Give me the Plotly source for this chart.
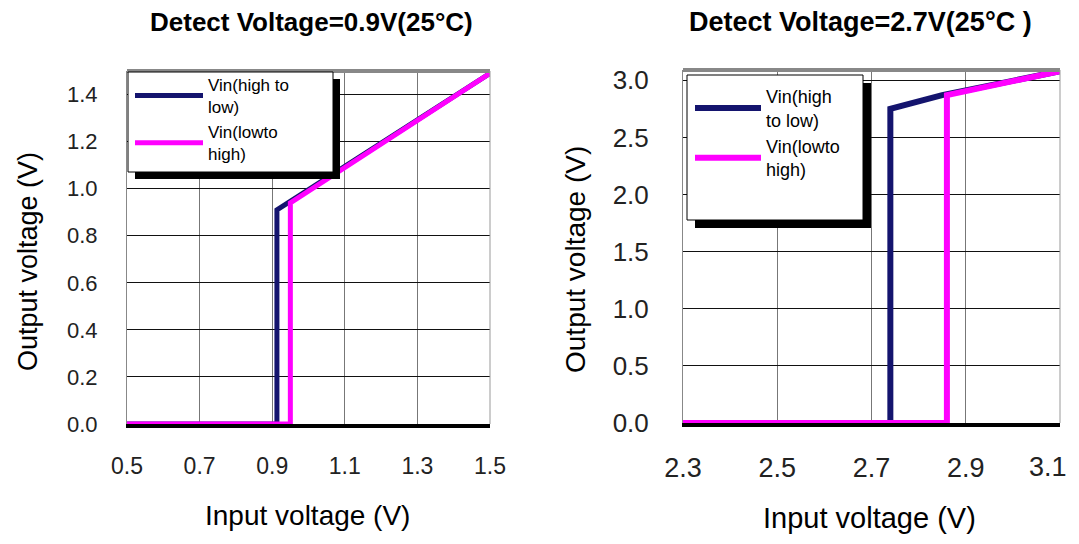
import plotly.graph_objects as go

# ---------------- data ----------------
left_hl_x = [0.5, 0.913, 0.913, 1.5]
left_hl_y = [0.0, 0.0, 0.91, 1.49]
left_lh_x = [0.5, 0.95, 0.95, 1.5]
left_lh_y = [0.0, 0.0, 0.94, 1.49]

right_hl_x = [2.3, 2.74, 2.74, 2.85, 3.1]
right_hl_y = [0.0, 0.0, 2.75, 2.87, 3.08]
right_lh_x = [2.3, 2.86, 2.86, 3.1]
right_lh_y = [0.0, 0.0, 2.87, 3.08]

left_xticks = [0.5, 0.7, 0.9, 1.1, 1.3, 1.5]
left_yticks = [0.0, 0.2, 0.4, 0.6, 0.8, 1.0, 1.2, 1.4]
right_xticks = [2.3, 2.5, 2.7, 2.9, 3.1]
right_yticks = [0.0, 0.5, 1.0, 1.5, 2.0, 2.5, 3.0]

name_hl_left = "Vin(high to<br>low)"
name_lh_left = "Vin(lowto<br>high)"
name_hl_right = "Vin(high<br>to low)"
name_lh_right = "Vin(lowto<br>high)"

NAVY = "#14146e"
MAGENTA = "#ff00ff"
FONT = "Liberation Sans, Arial, sans-serif"
OX, OY = 8, 8            # page body margin
W, H = 1063, 528

def px(x):
    return (x - OX) / W

def py(y):
    return 1 - (y - OY) / H

fig = go.Figure()

fig.add_trace(go.Scatter(x=left_hl_x, y=left_hl_y, mode="lines", name=name_hl_left,
                         line=dict(color=NAVY, width=5), xaxis="x", yaxis="y", legend="legend"))
fig.add_trace(go.Scatter(x=left_lh_x, y=left_lh_y, mode="lines", name=name_lh_left,
                         line=dict(color=MAGENTA, width=5), xaxis="x", yaxis="y", legend="legend"))
fig.add_trace(go.Scatter(x=right_hl_x, y=right_hl_y, mode="lines", name=name_hl_right,
                         line=dict(color=NAVY, width=6), xaxis="x2", yaxis="y2", legend="legend2"))
fig.add_trace(go.Scatter(x=right_lh_x, y=right_lh_y, mode="lines", name=name_lh_right,
                         line=dict(color=MAGENTA, width=6), xaxis="x2", yaxis="y2", legend="legend2"))

common_x = dict(showgrid=True, gridcolor="#777", gridwidth=1, zeroline=False,
                showline=True, linecolor="black", linewidth=4, ticks="", automargin=False,
                ticklabelstandoff=18)
common_y = dict(showgrid=True, gridcolor="#111", gridwidth=1, zeroline=False,
                showline=True, linecolor="#888", linewidth=1, ticks="", automargin=False)

# last right-hand tick label sits at the page edge: drawn as a right-anchored annotation
right_xtext = [f"{v:.1f}" for v in right_xticks[:-1]] + [""]
last_right_label = f"{right_xticks[-1]:.1f}"

fig.update_layout(
    width=W, height=H,
    margin=dict(l=0, r=0, t=0, b=0),
    paper_bgcolor="white", plot_bgcolor="white",
    font=dict(family=FONT, color="black"),
    xaxis=dict(domain=[px(127), px(490)], range=[0.5, 1.5], tickvals=left_xticks,
               ticktext=[f"{v:.1f}" for v in left_xticks], anchor="y",
               tickfont=dict(family=FONT, size=23, color="#222"), **common_x),
    yaxis=dict(domain=[py(424), py(71)], range=[0, 1.5], tickvals=left_yticks,
               ticktext=[f"{v:.1f}" for v in left_yticks], anchor="x",
               tickfont=dict(family=FONT, size=22, color="#222"),
               ticklabelstandoff=24, **common_y),
    xaxis2=dict(domain=[px(683), px(1060)], range=[2.3, 3.1], tickvals=right_xticks,
                ticktext=right_xtext, anchor="y2",
                tickfont=dict(family=FONT, size=27, color="#222"), **common_x),
    yaxis2=dict(domain=[py(423), py(70)], range=[0, 3.09], tickvals=right_yticks,
                ticktext=[f"{v:.1f}" for v in right_yticks], anchor="x2",
                tickfont=dict(family=FONT, size=26, color="#222"),
                ticklabelstandoff=28, **common_y),
    legend=dict(x=px(130), y=py(67), xanchor="left", yanchor="top",
                bgcolor="rgba(0,0,0,0)", borderwidth=0,
                font=dict(family=FONT, size=17, color="black"), itemwidth=68,
                tracegroupgap=0),
    legend2=dict(x=px(690), y=py(78), xanchor="left", yanchor="top",
                 bgcolor="rgba(0,0,0,0)", borderwidth=0,
                 font=dict(family=FONT, size=18, color="black"), itemwidth=66,
                 tracegroupgap=28),
)

shapes = []
for xr, yr in (("x domain", "y domain"), ("x2 domain", "y2 domain")):
    shapes.append(dict(type="line", xref=xr, yref=yr, x0=0, x1=1, y0=1, y1=1,
                       line=dict(color="#888", width=4), layer="above"))
    shapes.append(dict(type="line", xref=xr, yref=yr, x0=1, x1=1, y0=0, y1=1,
                       line=dict(color="#999", width=1), layer="above"))
for (x0, y0, x1, y1, sh) in ((128, 72, 333, 172, 7), (687, 75, 863, 220, 8)):
    shapes.append(dict(type="rect", xref="paper", yref="paper",
                       x0=px(x0 + sh), x1=px(x1 + sh), y0=py(y1 + sh), y1=py(y0 + sh),
                       fillcolor="black", line=dict(width=0), layer="above"))
    shapes.append(dict(type="rect", xref="paper", yref="paper",
                       x0=px(x0), x1=px(x1), y0=py(y1), y1=py(y0),
                       fillcolor="white", line=dict(color="black", width=1), layer="above"))
fig.update_layout(shapes=shapes)

ann = [
    dict(text="<b>Detect Voltage=0.9V(25°C)</b>", x=px(311), y=py(22), size=26, angle=0),
    dict(text="<b>Detect Voltage=2.7V(25°C )</b>", x=px(860), y=py(22), size=27, angle=0),
    dict(text="Input voltage (V)", x=px(307), y=py(515), size=28, angle=0),
    dict(text="Input voltage (V)", x=px(869), y=py(518), size=29, angle=0),
    dict(text="Output voltage (V)", x=px(28), y=py(262), size=27, angle=-90),
    dict(text="Output voltage (V)", x=px(575), y=py(260), size=28, angle=-90),
]
annotations = [
    dict(text=a["text"], x=a["x"], y=a["y"], xref="paper", yref="paper",
         xanchor="center", yanchor="middle", showarrow=False, textangle=a["angle"],
         font=dict(family=FONT, size=a["size"], color="black"))
    for a in ann
]
annotations.append(dict(text=last_right_label, x=right_xticks[-1], xref="x2",
                        y=py(467), yref="paper", xanchor="right", yanchor="middle",
                        xshift=9, showarrow=False,
                        font=dict(family=FONT, size=27, color="#222")))
fig.update_layout(annotations=annotations)

fig.write_html("out.html")
